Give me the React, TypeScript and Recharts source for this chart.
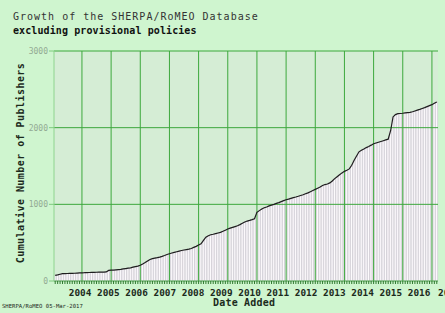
import {
  ComposedChart,
  Bar,
  Line,
  XAxis,
  YAxis,
  CartesianGrid,
  ReferenceLine,
} from 'recharts';

document.body.style.margin = '0';

// first month of the series is Feb 2003, one value per month
const startYear = 2003;
const startMonth = 2;

const yearTicks = [2004, 2005, 2006, 2007, 2008, 2009, 2010, 2011, 2012, 2013, 2014, 2015, 2016];
const valueTicks = [0, 1000, 2000, 3000];

// cumulative publishers, rows run Feb..Jan
const publishers = [
  74, 80, 88, 96, 97, 98, 99, 100, 101, 103, 105, 107,
  108, 110, 111, 112, 113, 114, 115, 116, 117, 118, 138, 141,
  143, 146, 149, 152, 157, 162, 167, 172, 180, 188, 195, 205,
  222, 240, 260, 280, 292, 298, 304, 312, 322, 333, 345, 355,
  365, 374, 382, 390, 398, 404, 410, 416, 424, 438, 452, 470,
  485, 530, 572, 590, 603, 610, 618, 626, 634, 648, 663, 678,
  690, 700, 710, 720, 735, 752, 770, 782, 790, 800, 812, 895,
  918, 940, 955, 965, 980, 990, 1000, 1012, 1022, 1035, 1048, 1060,
  1068, 1078, 1088, 1096, 1105, 1115, 1125, 1138, 1150, 1165, 1180, 1195,
  1210, 1225, 1245, 1258, 1265, 1280, 1305, 1335, 1360, 1385, 1410, 1430,
  1445, 1462, 1510, 1575, 1630, 1685, 1705, 1722, 1740, 1755, 1772, 1790,
  1800, 1810, 1820, 1830, 1840, 1850, 1960, 2140, 2170, 2183, 2185, 2188,
  2192, 2196, 2200, 2208, 2218, 2228, 2238, 2250, 2262, 2275, 2288, 2300,
  2318, 2335,
];

const months = publishers.map((_, i) => {
  const m = startMonth - 1 + i;
  return `${startYear + Math.floor(m / 12)}-${String((m % 12) + 1).padStart(2, '0')}`;
});

const data = months.map((month, i) => ({ month, count: publishers[i] }));

const mono = '"DejaVu Sans Mono", "Liberation Mono", monospace';
const gridGreen = '#3da83d';
const labelInk = '#1c2a1c';

function YearTick(props: any) {
  const { x, y, payload } = props;
  const [yr, mo] = String(payload.value).split('-');
  if (mo !== '01') return <g />;
  const k = Number(yr) - yearTicks[0];
  return (
    <text
      x={x - 1.9 - 0.91 * k}
      y={y + 12}
      textAnchor="middle"
      fontFamily={mono}
      fontSize={9.4}
      fontWeight="bold"
      fill={labelInk}
    >
      {yr}
    </text>
  );
}

const overlay = (extra: React.CSSProperties): React.CSSProperties => ({
  position: 'absolute',
  whiteSpace: 'nowrap',
  fontFamily: mono,
  lineHeight: 1,
  ...extra,
});

export default function App() {
  return (
    <div style={{ position: 'relative', width: 445, height: 313, background: '#cff5cf', overflow: 'hidden' }}>
      <ComposedChart
        width={445}
        height={313}
        data={data}
        barCategoryGap={0}
        margin={{ top: 51, right: 7, left: 14, bottom: 0 }}
      >
        <CartesianGrid horizontal={false} vertical={false} fill="#d5edd5" />
        <XAxis
          dataKey="month"
          interval={0}
          height={32}
          tickSize={3}
          tickMargin={0}
          tickLine={{ stroke: '#2f7a2f' }}
          axisLine={{ stroke: '#4aa84a' }}
          tick={<YearTick />}
        />
        <YAxis
          domain={[0, 3000]}
          ticks={valueTicks}
          width={40}
          tickSize={5}
          tickMargin={1}
          tickLine={{ stroke: '#7fcc7f' }}
          axisLine={{ stroke: '#8fd48f' }}
          tick={{ fill: '#93aa93', fontSize: 8, fontFamily: mono }}
        />
        <Bar
          dataKey="count"
          fill="#fdfbfd"
          stroke="#cfc6d3"
          strokeWidth={0.6}
          isAnimationActive={false}
        />
        {yearTicks.map((yr) => (
          <ReferenceLine key={yr} x={`${yr}-01`} stroke={gridGreen} strokeWidth={1} />
        ))}
        {valueTicks.slice(1).map((v) => (
          <ReferenceLine key={v} y={v} stroke={gridGreen} strokeWidth={1} />
        ))}
        <Line
          type="linear"
          dataKey="count"
          stroke="#1e1e1e"
          strokeWidth={1.2}
          dot={false}
          isAnimationActive={false}
        />
      </ComposedChart>

      <div style={overlay({ left: 13, top: 12, fontSize: 10, letterSpacing: 1, color: '#333' })}>
        Growth of the SHERPA/RoMEO Database
      </div>
      <div style={overlay({ left: 13, top: 26, fontSize: 10, letterSpacing: 0.1, fontWeight: 'bold', color: '#111' })}>
        excluding provisional policies
      </div>
      <div
        style={overlay({
          left: 21,
          top: 163,
          fontSize: 10,
          letterSpacing: 0.45,
          fontWeight: 'bold',
          color: labelInk,
          transform: 'translate(-50%, -50%) rotate(-90deg)',
        })}
      >
        Cumulative Number of Publishers
      </div>
      {/* the next year label runs off the right edge in the original */}
      <div style={overlay({ left: 438, top: 288, fontSize: 9.4, fontWeight: 'bold', color: labelInk })}>
        2017
      </div>
      <div style={overlay({ left: 213, top: 298, fontSize: 10, letterSpacing: 0.2, fontWeight: 'bold', color: labelInk })}>
        Date Added
      </div>
      <div style={overlay({ left: 2, top: 304, fontSize: 5.6, color: labelInk })}>
        SHERPA/RoMEO 05-Mar-2017
      </div>
    </div>
  );
}
